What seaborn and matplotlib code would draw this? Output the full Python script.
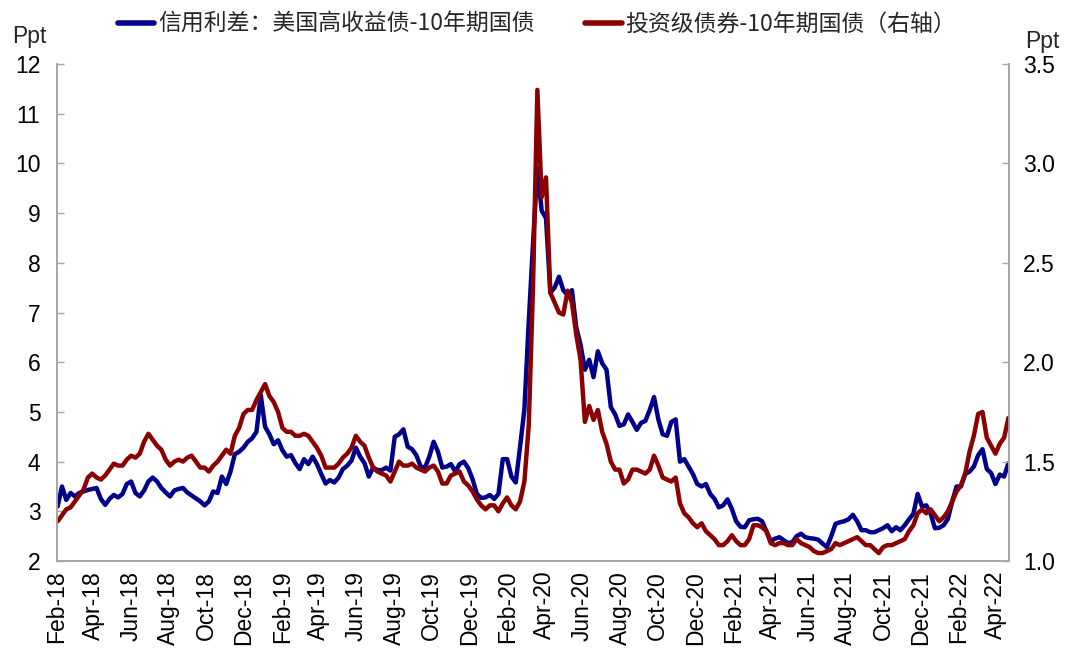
import matplotlib
matplotlib.use("Agg")
import matplotlib.pyplot as plt
import matplotlib.dates as mdates
import pandas as pd
import seaborn as sns

# weekly readings, first week ending 2018-02-02
start_date = "2018-02-02"

# 信用利差: 美国高收益债-10年期国债 (left axis, ppt)
hy_spread = [
    3.10, 3.50, 3.23, 3.37, 3.30, 3.37, 3.40, 3.43, 3.45, 3.47,
    3.25, 3.13, 3.25, 3.33, 3.28, 3.35, 3.55, 3.60, 3.37, 3.30,
    3.42, 3.60, 3.68, 3.60, 3.47, 3.38, 3.30, 3.42, 3.45, 3.47,
    3.38, 3.32, 3.26, 3.20, 3.12, 3.20, 3.40, 3.37, 3.70, 3.55,
    3.80, 4.15, 4.20, 4.28, 4.40, 4.47, 4.60, 5.34, 4.70, 4.55,
    4.35, 4.43, 4.23, 4.10, 4.13, 3.97, 3.85, 4.05, 3.95, 4.10,
    3.95, 3.75, 3.56, 3.63, 3.58, 3.68, 3.85, 3.92, 4.02, 4.28,
    4.10, 3.97, 3.70, 3.88, 3.83, 3.83, 3.88, 3.82, 4.50, 4.55,
    4.65, 4.30, 4.25, 4.13, 3.90, 3.88, 4.10, 4.40, 4.20, 3.88,
    3.90, 3.95, 3.80, 3.95, 4.00, 3.87, 3.65, 3.35, 3.27, 3.28,
    3.33, 3.25, 3.35, 4.05, 4.05, 3.70, 3.58, 4.30, 5.05, 6.80,
    8.40, 9.90, 9.05, 8.90, 7.40, 7.50, 7.72, 7.45, 7.35, 7.45,
    6.70, 6.35, 5.85, 6.05, 5.70, 6.22, 5.98, 5.85, 5.10, 4.95,
    4.72, 4.75, 4.95, 4.80, 4.64, 4.78, 4.82, 5.04, 5.30, 4.85,
    4.55, 4.52, 4.80, 4.85, 4.00, 4.05, 3.90, 3.75, 3.55, 3.50,
    3.55, 3.35, 3.25, 3.08, 3.12, 3.24, 3.05, 2.80, 2.69, 2.68,
    2.82, 2.84, 2.85, 2.80, 2.60, 2.40, 2.45, 2.48, 2.42, 2.36,
    2.38, 2.50, 2.55, 2.48, 2.46, 2.45, 2.43, 2.35, 2.28, 2.50,
    2.75, 2.78, 2.80, 2.84, 2.93, 2.80, 2.62, 2.62, 2.58, 2.58,
    2.62, 2.66, 2.72, 2.60, 2.68, 2.62, 2.72, 2.84, 2.95, 3.35,
    3.10, 3.12, 2.95, 2.66, 2.67, 2.72, 2.85, 3.20, 3.50, 3.50,
    3.75, 3.80, 3.90, 4.13, 4.25, 3.85, 3.77, 3.55, 3.74, 3.70,
    3.97,
]

# 投资级债券-10年期国债 (right axis, ppt)
ig_spread = [
    1.20, 1.23, 1.26, 1.27, 1.30, 1.33, 1.36, 1.42, 1.44, 1.42,
    1.41, 1.43, 1.46, 1.49, 1.48, 1.48, 1.51, 1.53, 1.52, 1.54,
    1.60, 1.64, 1.61, 1.58, 1.56, 1.51, 1.48, 1.50, 1.51, 1.50,
    1.52, 1.53, 1.50, 1.47, 1.47, 1.45, 1.48, 1.50, 1.53, 1.56,
    1.54, 1.63, 1.67, 1.74, 1.76, 1.76, 1.81, 1.85, 1.89, 1.83,
    1.80, 1.75, 1.67, 1.65, 1.65, 1.63, 1.63, 1.64, 1.63, 1.60,
    1.57, 1.53, 1.47, 1.47, 1.47, 1.49, 1.52, 1.54, 1.57, 1.63,
    1.60, 1.58, 1.52, 1.47, 1.45, 1.44, 1.43, 1.40, 1.45, 1.50,
    1.48, 1.48, 1.49, 1.47, 1.46, 1.45, 1.47, 1.48, 1.45, 1.39,
    1.39, 1.43, 1.44, 1.45, 1.40, 1.38, 1.35, 1.31, 1.28, 1.26,
    1.28, 1.28, 1.25, 1.29, 1.32, 1.28, 1.26, 1.30, 1.40, 1.68,
    2.38, 3.37, 2.83, 2.93, 2.35, 2.30, 2.25, 2.24, 2.36, 2.30,
    2.14, 2.01, 1.70, 1.78, 1.71, 1.76, 1.65, 1.59, 1.50, 1.46,
    1.46, 1.39, 1.41, 1.46, 1.46, 1.45, 1.44, 1.46, 1.53, 1.48,
    1.42, 1.41, 1.40, 1.42, 1.29, 1.24, 1.22, 1.19, 1.17, 1.19,
    1.15, 1.13, 1.11, 1.08, 1.08, 1.10, 1.13, 1.10, 1.08, 1.08,
    1.11, 1.18, 1.18, 1.17, 1.15, 1.09, 1.08, 1.09, 1.09, 1.08,
    1.08, 1.11, 1.09, 1.08, 1.07, 1.05, 1.04, 1.04, 1.05, 1.06,
    1.09, 1.08, 1.09, 1.10, 1.11, 1.12, 1.10, 1.08, 1.08, 1.06,
    1.04, 1.07, 1.08, 1.08, 1.09, 1.10, 1.11, 1.15, 1.18, 1.24,
    1.26, 1.24, 1.26, 1.23, 1.20, 1.22, 1.25, 1.30, 1.35, 1.38,
    1.44, 1.55, 1.63, 1.74, 1.75, 1.62, 1.58, 1.54, 1.59, 1.62,
    1.72,
]

hy_label = "信用利差：美国高收益债-10年期国债"
ig_label = "投资级债券-10年期国债（右轴）"
left_ticks = [2, 3, 4, 5, 6, 7, 8, 9, 10, 11, 12]
right_ticks = [1.0, 1.5, 2.0, 2.5, 3.0, 3.5]

df = pd.DataFrame({
    "date": pd.date_range(start_date, periods=len(hy_spread), freq="7D"),
    "hy": hy_spread,
    "ig": ig_spread,
})

sns.set_style("white")
plt.rcParams["font.family"] = ["Liberation Sans", "Noto Sans CJK SC", "DejaVu Sans"]

blue = "#00008B"
red = "#8B0000"
grey = "#A6A6A6"

fig = plt.figure(figsize=(10.8, 6.63), dpi=100)
ax = fig.add_axes([0.0528, 0.1538, 0.8815, 0.7496])
ax2 = ax.twinx()

sns.lineplot(data=df, x="date", y="hy", ax=ax, color=blue, linewidth=3.2, label=hy_label, legend=False)
sns.lineplot(data=df, x="date", y="ig", ax=ax2, color=red, linewidth=3.2, label=ig_label, legend=False)

ax.set_xlim(pd.Timestamp("2018-02-01"), pd.Timestamp("2022-04-23"))
ax.set_ylim(2, 12)
ax2.set_ylim(1.0, 3.5)
ax.set_yticks(left_ticks)
ax2.set_yticks(right_ticks)
ax2.set_yticklabels([f"{t:.1f}" for t in right_ticks])

ax.xaxis.set_major_locator(mdates.MonthLocator(bymonth=[2, 4, 6, 8, 10, 12]))
ax.xaxis.set_major_formatter(mdates.DateFormatter("%b-%y"))
plt.setp(ax.get_xticklabels(), rotation=90)

ax.set_xlabel("")
ax.set_ylabel("")
ax2.set_ylabel("")

for a in (ax, ax2):
    a.spines["top"].set_visible(False)
    for s in ("left", "right", "bottom"):
        a.spines[s].set_color(grey)
        a.spines[s].set_linewidth(1.2)
    a.tick_params(axis="both", direction="in", length=5, width=1, color=grey,
                  labelsize=16.5, labelcolor="black")
ax.tick_params(axis="y", pad=12)
ax2.tick_params(axis="y", pad=10)
ax.tick_params(axis="x", pad=7)

fig.text(0.011, 0.945, "Ppt", fontsize=16.5, ha="left", va="center")
fig.text(0.949, 0.937, "Ppt", fontsize=16.5, ha="left", va="center")

h1, l1 = ax.get_legend_handles_labels()
h2, l2 = ax2.get_legend_handles_labels()
leg = fig.legend(h1 + h2, l1 + l2, loc="upper center", bbox_to_anchor=(0.497, 1.012),
                 ncol=2, frameon=False, fontsize=16.5, handlelength=1.6,
                 handletextpad=0.15, columnspacing=2.2)
for line in leg.get_lines():
    line.set_linewidth(4)
for t in leg.get_texts():
    t.set_fontfamily(["Noto Sans CJK SC", "DejaVu Sans"])

fig.savefig("out.png", dpi=100)
